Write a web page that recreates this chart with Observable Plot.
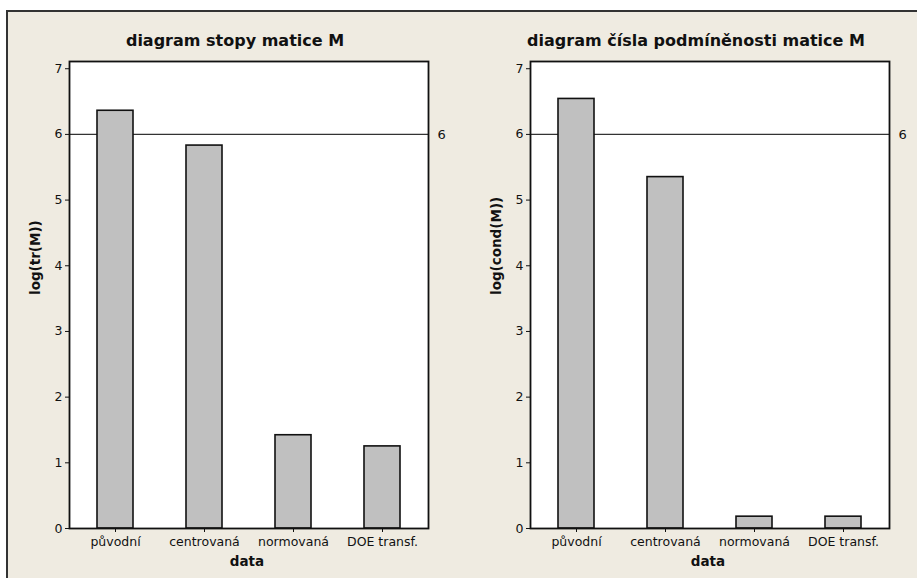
<!DOCTYPE html>
<html>
<head>
<meta charset="utf-8">
<script src="https://cdn.jsdelivr.net/npm/d3@7"></script>
<script src="https://cdn.jsdelivr.net/npm/@observablehq/plot@0.6"></script>
<style>
  html, body { margin: 0; padding: 0; background: #ffffff; }
  #wrap { position: relative; width: 917px; height: 578px; overflow: hidden; }
  #bg { position: absolute; left: 6px; top: 10px; right: 0; bottom: 0;
        background: #efebe1; border-left: 2px solid #333; border-top: 2px solid #333; }
  #wrap svg { position: absolute; top: 0; }
</style>
</head>
<body>
<div id="wrap"><div id="bg"></div></div>
<script>
const categories = ["původní", "centrovaná", "normovaná", "DOE transf."];
const traceValues = [6.36, 5.83, 1.42, 1.25];
const condValues = [6.54, 5.35, 0.18, 0.18];
const yTicks = [0, 1, 2, 3, 4, 5, 6, 7];
const refValue = 6;

const titles = ["diagram stopy matice M", "diagram čísla podmíněnosti matice M"];
const yLabels = ["log(tr(M))", "log(cond(M))"];
const xLabel = "data";

function panel(values, title, ylab, left, width, mLeft, mRight) {
  const data = categories.map((c, i) => ({cat: c, val: values[i]}));
  const svg = Plot.plot({
    width: width,
    height: 578,
    marginLeft: mLeft,
    marginRight: mRight,
    marginTop: 61,
    marginBottom: 50,
    style: "background: transparent; font-family: 'DejaVu Sans'; font-size: 12.5px; color: #111;",
    x: {domain: categories, paddingInner: 0.6, paddingOuter: 0.3, label: null, tickSize: 4, tickPadding: 5},
    y: {domain: [0, 7.11], ticks: yTicks, tickSize: 4, tickPadding: 3, label: null},
    marks: [
      Plot.frame({fill: "white", stroke: "none"}),
      Plot.ruleY([refValue], {stroke: "#333", strokeWidth: 1.2}),
      Plot.barY(data, {x: "cat", y: "val", fill: "#c0c0c0", stroke: "#111", strokeWidth: 1.6}),
      Plot.frame({stroke: "#111", strokeWidth: 1.8}),
      Plot.text([String(refValue)], {y: () => refValue, frameAnchor: "right", dx: 9, textAnchor: "start", fontSize: 13}),
      Plot.text([title], {frameAnchor: "top", dx: -14, dy: -27, fontWeight: "bold", fontSize: 16}),
      Plot.text([xLabel], {frameAnchor: "bottom", dx: -2, dy: 37, fontWeight: "bold", fontSize: 13.5}),
      Plot.text([ylab], {frameAnchor: "left", dx: -34, rotate: -90, fontWeight: "bold", fontSize: 13.5})
    ]
  });
  svg.style.left = left + "px";
  document.getElementById("wrap").appendChild(svg);
}

panel(traceValues, titles[0], yLabels[0], 0, 458, 69, 30);
panel(condValues, titles[1], yLabels[1], 458, 459, 72, 28);
</script>
</body>
</html>
